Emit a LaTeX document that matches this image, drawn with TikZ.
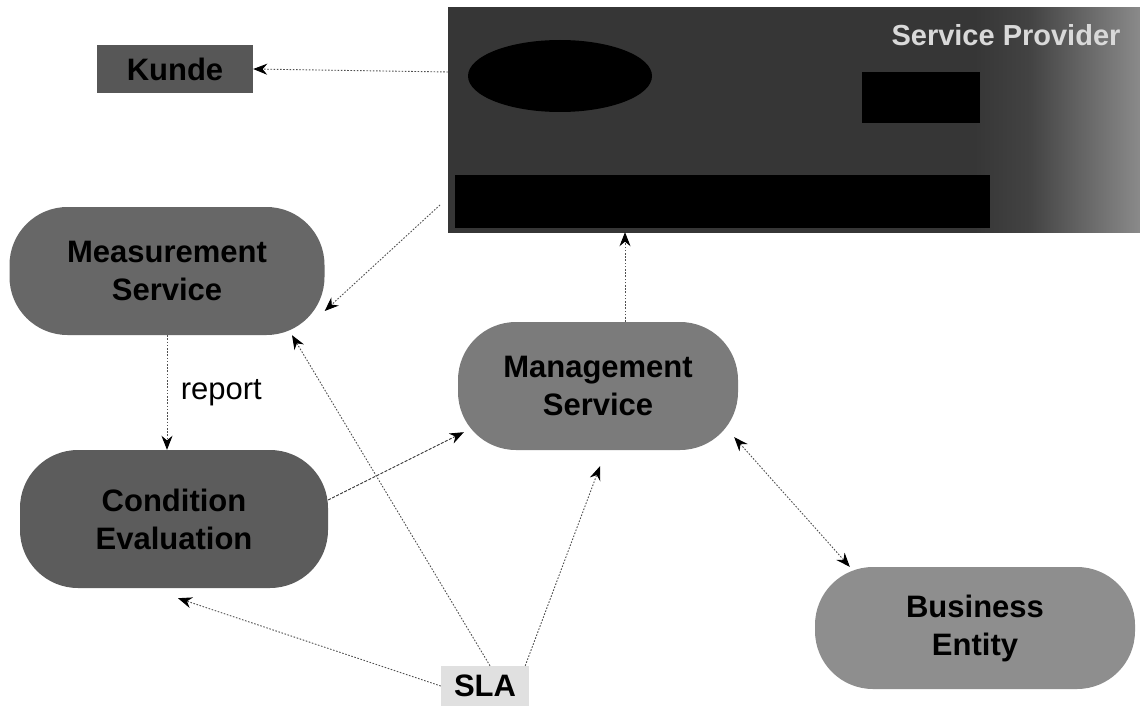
\documentclass[tikz,border=0pt]{standalone}
\usepackage{fontspec}
\setmainfont{Liberation Sans}
\usetikzlibrary{arrows.meta,shapes.geometric}
\definecolor{kundefill}{HTML}{575757}
\definecolor{measfill}{HTML}{676767}
\definecolor{condfill}{HTML}{5C5C5C}
\definecolor{mgmtfill}{HTML}{7B7B7B}
\definecolor{busfill}{HTML}{8E8E8E}
\definecolor{slafill}{HTML}{E0E0E0}
\definecolor{linecol}{HTML}{505050}
\definecolor{boxdark}{HTML}{363636}
\definecolor{boxlight}{HTML}{8A8A8A}
\pgfdeclarehorizontalshading{spshade}{100bp}{color(0bp)=(boxdark); color(63bp)=(boxdark); color(67bp)=(boxdark!85!boxlight); color(75bp)=(boxlight); color(100bp)=(boxlight)}
\tikzset{
  pill/.style={fill=#1, rounded corners=58pt, inner sep=0pt, align=center,
    font=\fontsize{31}{38}\selectfont\bfseries, text=black},
  conn/.style={draw=linecol, line width=0.9pt, dash pattern=on 1.6pt off 1.6pt,
    -{Stealth[length=14pt,width=11pt,color=black]}},
  bothconn/.style={conn, {Stealth[length=14pt,width=11pt,color=black]}-{Stealth[length=14pt,width=11pt,color=black]}},
  blackpart/.style={fill=black, draw=none, inner sep=0pt}
}
\begin{document}
\begin{tikzpicture}[x=1pt,y=-1pt]
\useasboundingbox (0,0) rectangle (1140,706);
\fill[white] (0,0) rectangle (1140,706);

% Service provider box
\node[rectangle, minimum width=692pt, minimum height=224pt, inner sep=0pt,
      shading=spshade, draw=none] (sp) at (794,120) {};
\node[blackpart, ellipse, minimum width=184pt, minimum height=72pt] (ell) at (560,76) {};
\node[blackpart, rectangle, minimum width=118pt, minimum height=51pt] (blk) at (921,97.5) {};
\node[blackpart, rectangle, minimum width=535pt, minimum height=53pt] (bar) at (722.5,201.5) {};
\node[font=\fontsize{29}{30}\selectfont\bfseries, text=white!85!black, inner sep=0pt] (sptext) at (1006,35) {Service Provider};

% Nodes
\node[fill=kundefill, minimum width=156pt, minimum height=48pt, inner sep=0pt,
      font=\fontsize{31}{32}\selectfont\bfseries] (kunde) at (175,69) {Kunde};
\node[pill=measfill, minimum width=315pt, minimum height=128pt] (meas) at (167,271) {Measurement\\Service};
\node[pill=condfill, minimum width=308pt, minimum height=138pt] (cond) at (174,519) {Condition\\Evaluation};
\node[pill=mgmtfill, minimum width=280pt, minimum height=128pt] (mgmt) at (598,386) {Management\\Service};
\node[pill=busfill, minimum width=320pt, minimum height=122pt] (bus) at (975,628) {Business\\Entity};
\node[fill=slafill, minimum width=88pt, minimum height=40pt, inner sep=0pt,
      font=\fontsize{31}{32}\selectfont\bfseries] (sla) at (485,686) {SLA};

% Connectors
\coordinate (kstart) at (448,72);
\coordinate (mstart) at (440,205);
\draw[conn] (kstart) -- (kunde.east);
\draw[conn] (mstart) -- ([shift={(0pt,-40pt)}]meas.east);
\draw[conn] ([xshift=27pt]mgmt.north) -- ([xshift=27pt]mgmt.north |- sp.south);
\draw[conn] (meas.south) -- node[right=10pt, font=\fontsize{31}{32}\selectfont, text=black] (rep) {report} (meas.south |- cond.north);
\draw[conn, draw=black!80, dash pattern=on 3pt off 1.5pt] ([yshift=19pt]cond.east) -- ([shift={(6pt,18pt)}]mgmt.south west);
\draw[conn] ([xshift=5pt]sla.north) -- ([xshift=125pt]meas.south);
\draw[conn] (sla.west) -- ([shift={(4pt,-10pt)}]cond.south);
\draw[conn] ([xshift=-4pt]sla.north east) -- ([shift={(2pt,-16pt)}]mgmt.south);
\draw[bothconn] ([shift={(-4pt,13pt)}]mgmt.south east) -- ([xshift=35pt]bus.north west);
\end{tikzpicture}
\end{document}
